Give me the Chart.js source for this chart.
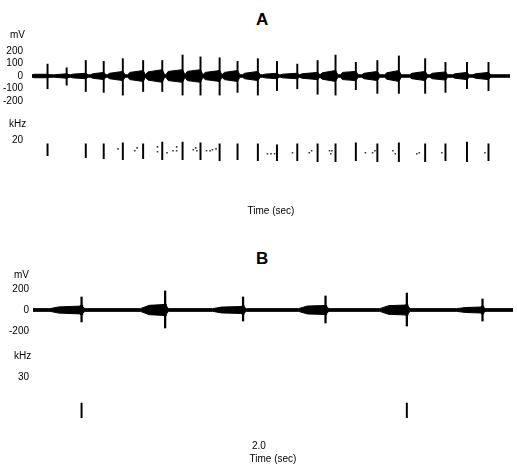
<!DOCTYPE html>
<html>
<head>
<meta charset="utf-8">
<title>Oscillogram and spectrogram, panels A and B</title>
<script src="https://cdn.jsdelivr.net/npm/chart.js@4.4.1/dist/chart.umd.min.js"></script>
<style>
  body { margin: 0; background: #fff; }
  #fig { position: relative; width: 517px; height: 473px; overflow: hidden; background: #fff; }
  #fig canvas { position: absolute; left: 0; }
  .txt { position: absolute; font-family: 'Liberation Sans', Arial, sans-serif; font-size: 10px; line-height: 12px; color: #000; white-space: nowrap; }
  .panel { font-weight: bold; font-size: 17px; line-height: 20px; }
</style>
</head>
<body>
<div id="fig">
  <canvas id="aOsc" width="517" height="92" style="top:30px"></canvas>
  <canvas id="aSpec" width="517" height="100" style="top:125px"></canvas>
  <canvas id="bOsc" width="517" height="80" style="top:270px"></canvas>
  <canvas id="bSpec" width="517" height="109" style="top:364px"></canvas>
  <div class="txt panel" style="left:256px;top:10px">A</div>
  <div class="txt" style="left:10px;top:29px">mV</div>
  <div class="txt" style="left:9px;top:118px">kHz</div>
  <div class="txt panel" style="left:256px;top:249px">B</div>
  <div class="txt" style="left:14px;top:269px">mV</div>
  <div class="txt" style="left:14px;top:350px">kHz</div>
</div>
<script>
Chart.defaults.font.family = "'Liberation Sans', Arial, sans-serif";
Chart.defaults.font.size = 10;
Chart.defaults.color = '#000';

// panel A, oscillogram (time in sec, mV)
const aTimeEnd = 4.0;
const aSpikeT  = [0.13, 0.29, 0.45, 0.60, 0.76, 0.93, 1.09, 1.26, 1.41, 1.57, 1.72, 1.89,
                  2.05, 2.22, 2.39, 2.54, 2.71, 2.89, 3.07, 3.29, 3.46, 3.64, 3.82];
const aSpikeHi = [96, 66, 125, 118, 140, 125, 125, 169, 154, 147, 118, 140,
                  118, 96, 125, 169, 110, 125, 162, 140, 110, 110, 110];
const aSpikeLo = [-103, -74, -125, -132, -154, -125, -125, -154, -154, -154, -132, -154,
                  -118, -103, -147, -154, -110, -140, -140, -140, -132, -103, -118];
const aBurstStart = [0.00, 0.18, 0.32, 0.49, 0.63, 0.80, 0.95, 1.12, 1.28, 1.43, 1.59, 1.76,
                     1.93, 2.08, 2.24, 2.41, 2.58, 2.76, 2.95, 3.16, 3.33, 3.52, 3.69];
const aBurstOnset = [14, 11, 15, 18, 22, 29, 33, 37, 37, 29, 29, 22,
                     15, 15, 18, 26, 29, 22, 26, 22, 22, 18, 18];
const aBurstPeak  = [14, 18, 22, 29, 37, 44, 51, 51, 51, 44, 44, 37,
                     22, 22, 29, 44, 37, 37, 44, 37, 33, 29, 29];
const aBase = 10;
const aMvTicks = [200, 100, 0, -100, -200];

// panel A, spectrogram (kHz)
const aSpecT  = [0.13, 0.45, 0.60, 0.76, 0.93, 1.09, 1.26, 1.41, 1.57, 1.72, 1.89,
                 2.05, 2.22, 2.39, 2.54, 2.71, 2.89, 3.07, 3.29, 3.46, 3.64, 3.82];
const aSpecLo = [13.6, 12.8, 12.4, 12.0, 12.4, 12.0, 12.0, 12.0, 11.6, 12.0, 11.6,
                 11.6, 11.6, 11.2, 11.2, 11.6, 11.2, 11.2, 11.2, 11.6, 11.2, 11.6];
const aSpecHi = [18.4, 18.4, 18.4, 18.8, 18.4, 19.2, 19.2, 18.8, 18.4, 18.4, 18.4,
                 18.0, 18.4, 18.4, 18.4, 18.8, 18.4, 18.8, 18.4, 18.4, 19.2, 18.4];
const aDotT = [0.72, 0.86, 0.88, 1.05, 1.05, 1.13, 1.18, 1.21, 1.21, 1.35, 1.37, 1.38,
               1.46, 1.49, 1.51, 1.54, 1.97, 2.00, 2.03, 2.18, 2.32, 2.34, 2.49, 2.50,
               2.51, 2.79, 2.85, 2.87, 3.02, 3.04, 3.22, 3.24, 3.43, 3.79];
const aDotF = [16.4, 15.6, 16.8, 17.2, 15.2, 14.8, 15.6, 17.2, 15.6, 16.0, 16.8, 15.6,
               15.6, 15.6, 16.0, 16.4, 14.4, 14.4, 14.4, 14.8, 14.8, 15.6, 15.6, 14.4,
               15.6, 14.8, 14.8, 15.6, 15.6, 14.4, 14.4, 14.8, 14.8, 14.8];
const aKhzTicks = [20];

// panel B, oscillogram
const bTimeEnd = 4.25;
const bSpikeT  = [0.43, 1.17, 1.86, 2.59, 3.31, 3.98];
const bSpikeHi = [125, 183, 125, 135, 163, 106];
const bSpikeLo = [-115, -173, -106, -125, -154, -106];
const bCoreHi  = [45, 55, 40, 45, 50, 38];
const bCoreLo  = [-45, -55, -40, -45, -50, -38];
const bBurstStart = [0.15, 0.95, 1.59, 2.35, 3.07, 3.75];
const bBurstOnset = [30, 45, 28, 38, 42, 24];
const bBurstPeak  = [38, 53, 34, 43, 48, 29];
const bBase = 13;
const bMvTicks = [200, 0, -200];

// panel B, spectrogram
const bSpecT  = [0.43, 3.31];
const bSpecLo = [10.5, 10.5];
const bSpecHi = [17.5, 17.5];
const bKhzTicks = [30];
const bTimeTicks = [2.0];

function envelope(starts, onsets, peaks, spikes, base, tEnd, gap, rise) {
  const pts = [{x: 0, y: base}];
  for (let i = 0; i < spikes.length; i++) {
    pts.push({x: starts[i], y: base});
    pts.push({x: starts[i] + rise, y: onsets[i]});
    pts.push({x: spikes[i], y: peaks[i]});
    pts.push({x: spikes[i] + gap, y: base});
  }
  pts.push({x: tEnd, y: base});
  return pts;
}

function floating(ts, lo, hi) {
  return ts.map((t, i) => ({x: t, y: [lo[i], hi[i]]}));
}

function yAxis(min, max, ticks, width, pad) {
  return {
    min: min, max: max,
    afterBuildTicks: s => { s.ticks = ticks.map(v => ({value: v})); },
    afterFit: s => { s.width = width; },
    grid: {display: false, drawTicks: false},
    border: {display: false},
    ticks: {padding: pad, color: '#000'}
  };
}

const baseOpts = {
  responsive: false,
  animation: false,
  devicePixelRatio: 1,
  events: [],
  plugins: {legend: {display: false}, tooltip: {enabled: false}}
};

function oscChart(id, p) {
  const upper = envelope(p.start, p.onset, p.peak, p.spikeT, p.base, p.tEnd, p.gap, p.rise);
  const lower = upper.map(pt => ({x: pt.x, y: -pt.y}));
  const datasets = [
    {type: 'line', data: upper, borderColor: '#000', borderWidth: 1, pointRadius: 0,
     fill: '+1', backgroundColor: '#000', order: 2},
    {type: 'line', data: lower, borderColor: '#000', borderWidth: 1, pointRadius: 0,
     fill: false, order: 2},
    {type: 'bar', data: floating(p.spikeT, p.spikeLo, p.spikeHi), backgroundColor: '#000',
     barThickness: p.spikeW, grouped: false, order: 1}
  ];
  if (p.coreLo) {
    datasets.push({type: 'bar', data: floating(p.spikeT, p.coreLo, p.coreHi),
      backgroundColor: '#000', barThickness: 2.6, grouped: false, order: 1});
  }
  return new Chart(document.getElementById(id), {
    type: 'bar',
    data: {datasets: datasets},
    options: Object.assign({}, baseOpts, {
      layout: {padding: {left: 0, right: p.padR, top: p.padT, bottom: p.padB}},
      scales: {
        x: {type: 'linear', min: 0, max: p.tEnd, offset: false, display: false},
        y: yAxis(-250, 250, p.ticks, p.axisW, p.tickPad)
      }
    })
  });
}

function specChart(id, p) {
  const datasets = [
    {type: 'bar', data: floating(p.t, p.lo, p.hi), backgroundColor: '#000',
     barThickness: 1.3, grouped: false}
  ];
  if (p.dotT) {
    datasets.push({type: 'scatter', data: p.dotT.map((t, i) => ({x: t, y: p.dotF[i]})),
      pointStyle: 'rect', pointRadius: 1.1, backgroundColor: '#333', borderWidth: 0});
  }
  return new Chart(document.getElementById(id), {
    type: 'bar',
    data: {datasets: datasets},
    options: Object.assign({}, baseOpts, {
      layout: {padding: {left: 0, right: p.padR, top: p.padT, bottom: 0}},
      scales: {
        x: {
          type: 'linear', min: 0, max: p.tEnd, offset: false,
          grid: {display: false, drawTicks: false}, border: {display: false},
          afterBuildTicks: s => { s.ticks = p.timeTicks.map(v => ({value: v})); },
          ticks: {display: p.timeTicks.length > 0, padding: 1, color: '#000',
                  callback: v => Number(v).toFixed(1)},
          title: {display: true, text: 'Time (sec)', color: '#000',
                  padding: {top: p.titleTop, bottom: p.titleBottom}}
        },
        y: yAxis(0, p.fMax, p.ticks, p.axisW, p.tickPad)
      }
    })
  });
}

oscChart('aOsc', {
  spikeT: aSpikeT, spikeHi: aSpikeHi, spikeLo: aSpikeLo, spikeW: 1.3,
  start: aBurstStart, onset: aBurstOnset, peak: aBurstPeak, base: aBase,
  tEnd: aTimeEnd, gap: 0.02, rise: 0.02, ticks: aMvTicks,
  axisW: 32, tickPad: 9, padR: 7, padT: 12, padB: 12
});

specChart('aSpec', {
  t: aSpecT, lo: aSpecLo, hi: aSpecHi, dotT: aDotT, dotF: aDotF,
  tEnd: aTimeEnd, fMax: 20, ticks: aKhzTicks, timeTicks: [],
  axisW: 32, tickPad: 9, padR: 7, padT: 13, titleTop: 16.4, titleBottom: 7.4
});

oscChart('bOsc', {
  spikeT: bSpikeT, spikeHi: bSpikeHi, spikeLo: bSpikeLo, spikeW: 1.6,
  coreHi: bCoreHi, coreLo: bCoreLo,
  start: bBurstStart, onset: bBurstOnset, peak: bBurstPeak, base: bBase,
  tEnd: bTimeEnd, gap: 0.03, rise: 0.08, ticks: bMvTicks,
  axisW: 33, tickPad: 4, padR: 4, padT: 14, padB: 14
});

specChart('bSpec', {
  t: bSpecT, lo: bSpecLo, hi: bSpecHi,
  tEnd: bTimeEnd, fMax: 30, ticks: bKhzTicks, timeTicks: bTimeTicks,
  axisW: 33, tickPad: 4, padR: 4, padT: 13, titleTop: 0.2, titleBottom: 7.4
});
</script>
</body>
</html>
